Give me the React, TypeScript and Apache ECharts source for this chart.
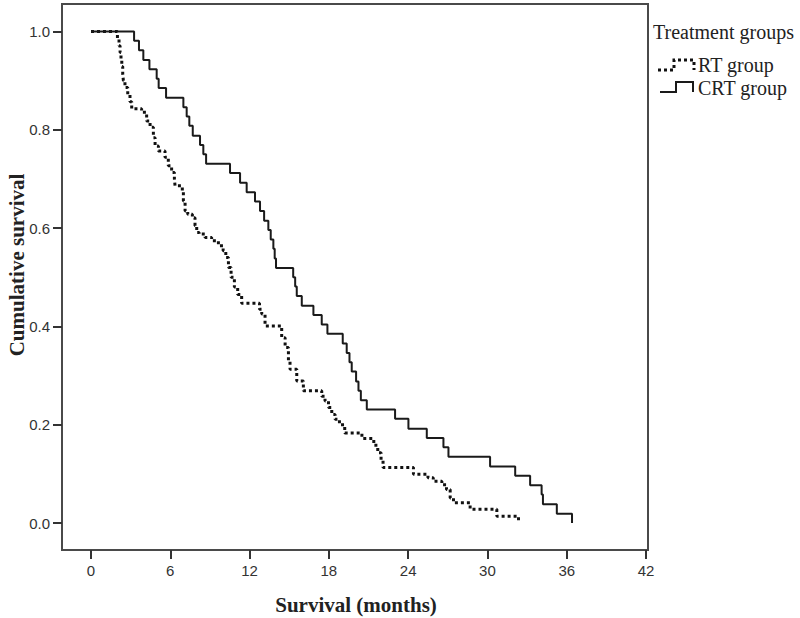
import React, { useEffect, useRef } from "react";
import * as echarts from "echarts";

// Survival (months) at each step and cumulative survival after the step
const rtTimes = [0, 2.0, 2.12, 2.2, 2.27, 2.33, 2.4, 2.45, 2.57, 2.78, 2.95, 3.08, 3.83, 4.04, 4.21, 4.47, 4.72, 4.85, 5.1, 5.6, 5.85, 6.1, 6.31, 6.36, 6.91, 6.99, 7.12, 7.32, 7.67, 7.87, 8.0, 8.18, 8.63, 9.13, 9.64, 10.0, 10.2, 10.4, 10.6, 10.85, 11.1, 11.4, 12.75, 12.92, 13.17, 14.43, 14.69, 14.94, 15.06, 15.57, 16.07, 17.46, 17.71, 17.97, 18.22, 18.47, 18.8, 19.2, 20.5, 21.4, 21.7, 21.95, 22.1, 24.4, 25.5, 25.9, 26.55, 26.9, 27.18, 27.43, 28.69, 30.71, 32.35];
const rtSurv = [1.0, 0.986, 0.971, 0.957, 0.943, 0.929, 0.914, 0.9, 0.886, 0.871, 0.857, 0.843, 0.839, 0.832, 0.818, 0.805, 0.784, 0.767, 0.757, 0.744, 0.727, 0.713, 0.7, 0.686, 0.676, 0.655, 0.635, 0.628, 0.621, 0.605, 0.591, 0.588, 0.581, 0.574, 0.564, 0.554, 0.54, 0.52, 0.5, 0.48, 0.465, 0.447, 0.435, 0.425, 0.401, 0.377, 0.357, 0.33, 0.313, 0.289, 0.269, 0.258, 0.248, 0.235, 0.221, 0.211, 0.2, 0.183, 0.172, 0.158, 0.143, 0.128, 0.113, 0.099, 0.092, 0.085, 0.078, 0.068, 0.051, 0.041, 0.028, 0.014, 0.0];

const crtTimes = [0, 3.26, 3.63, 3.96, 4.42, 4.97, 5.12, 5.68, 6.99, 7.24, 7.44, 7.7, 8.25, 8.5, 8.71, 10.52, 11.28, 11.78, 12.41, 12.79, 13.1, 13.42, 13.6, 13.8, 13.9, 14.0, 15.3, 15.45, 15.57, 15.95, 16.83, 17.46, 17.89, 19.05, 19.35, 19.56, 19.73, 20.06, 20.24, 20.42, 20.87, 23.01, 24.02, 25.41, 26.67, 27.05, 30.2, 32.1, 33.23, 34.1, 34.2, 35.25, 36.4];
const crtSurv = [1.0, 0.981, 0.962, 0.942, 0.923, 0.904, 0.885, 0.865, 0.846, 0.827, 0.808, 0.788, 0.769, 0.75, 0.731, 0.712, 0.692, 0.673, 0.654, 0.635, 0.615, 0.596, 0.577, 0.558, 0.538, 0.519, 0.5, 0.481, 0.462, 0.442, 0.423, 0.404, 0.385, 0.365, 0.346, 0.327, 0.308, 0.288, 0.269, 0.25, 0.231, 0.212, 0.192, 0.173, 0.154, 0.135, 0.115, 0.096, 0.077, 0.058, 0.038, 0.019, 0.0];

const seriesNames = ["RT group", "CRT group"];
const legendTitle = "Treatment groups";
const xTitle = "Survival (months)";
const yTitle = "Cumulative survival";
const xTickValues = [0, 6, 12, 18, 24, 30, 36, 42];
const yTickValues = [0, 0.2, 0.4, 0.6, 0.8, 1.0];
const xRange = [-2.195, 42.15];
const yRange = [-0.0549, 1.0559];

export default function App() {
  const ref = useRef<HTMLDivElement>(null);
  useEffect(() => {
    if (!ref.current) return;
    const chart = echarts.init(ref.current, null, { renderer: "svg" });
    const rtData = rtTimes.map((t, i) => [t, rtSurv[i]]);
    const crtData = crtTimes.map((t, i) => [t, crtSurv[i]]);
    const tickStyle = { color: "#333", width: 2 };
    const labelStyle = { color: "#333", fontSize: 15, fontFamily: "Liberation Sans" };
    const axisLineStyle = { color: "#4a4a4a", width: 2 };
    chart.setOption({
      animation: false,
      backgroundColor: "#fff",
      grid: { left: 62, right: 152, top: 4, bottom: 68 },
      xAxis: {
        type: "value",
        min: xRange[0],
        max: xRange[1],
        axisLine: { show: true, onZero: false, lineStyle: axisLineStyle },
        axisTick: { show: true, length: 9, lineStyle: tickStyle, customValues: xTickValues },
        axisLabel: { ...labelStyle, margin: 13, customValues: xTickValues, formatter: (v: number) => String(Math.round(v)) },
        splitLine: { show: false },
      },
      yAxis: {
        type: "value",
        min: yRange[0],
        max: yRange[1],
        axisLine: { show: true, onZero: false, lineStyle: axisLineStyle },
        axisTick: { show: true, length: 9, lineStyle: tickStyle, customValues: yTickValues },
        axisLabel: { ...labelStyle, margin: 12, customValues: yTickValues, formatter: (v: number) => v.toFixed(1) },
        splitLine: { show: false },
      },
      series: [
        {
          name: seriesNames[0],
          type: "line",
          step: "end",
          data: rtData,
          showSymbol: false,
          lineStyle: { color: "#111", width: 3, type: [3, 3] },
        },
        {
          name: seriesNames[1],
          type: "line",
          step: "end",
          data: crtData,
          showSymbol: false,
          lineStyle: { color: "#1a1a1a", width: 2 },
        },
      ],
      graphic: [
        {
          type: "rect",
          shape: { x: 62, y: 4, width: 586, height: 546 },
          style: { fill: "none", stroke: "#4a4a4a", lineWidth: 2 },
          silent: true,
        },
        {
          type: "text",
          x: 356,
          y: 605,
          style: { text: xTitle, font: "bold 21px 'Liberation Serif'", fill: "#222", align: "center", verticalAlign: "middle" },
        },
        {
          type: "text",
          x: 17,
          y: 265,
          rotation: Math.PI / 2,
          style: { text: yTitle, font: "bold 21px 'Liberation Serif'", fill: "#222", align: "center", verticalAlign: "middle" },
        },
        {
          type: "text",
          x: 653,
          y: 32,
          style: { text: legendTitle, font: "20px 'Liberation Serif'", fill: "#222", align: "left", verticalAlign: "middle" },
        },
        {
          type: "polyline",
          shape: { points: [[658, 70], [674, 70], [674, 60], [694, 60], [694, 70]] },
          style: { stroke: "#111", lineWidth: 3, lineDash: [3, 3], fill: "none" },
        },
        {
          type: "text",
          x: 698,
          y: 65,
          style: { text: seriesNames[0], font: "20px 'Liberation Serif'", fill: "#222", align: "left", verticalAlign: "middle" },
        },
        {
          type: "polyline",
          shape: { points: [[660, 92], [676, 92], [676, 82], [693, 82], [693, 92]] },
          style: { stroke: "#1a1a1a", lineWidth: 2, fill: "none" },
        },
        {
          type: "text",
          x: 698,
          y: 88,
          style: { text: seriesNames[1], font: "20px 'Liberation Serif'", fill: "#222", align: "left", verticalAlign: "middle" },
        },
      ],
    });
    return () => chart.dispose();
  }, []);
  return (
    <div
      ref={ref}
      style={{ position: "fixed", left: 0, top: 0, width: 800, height: 618, background: "#fff" }}
    />
  );
}
